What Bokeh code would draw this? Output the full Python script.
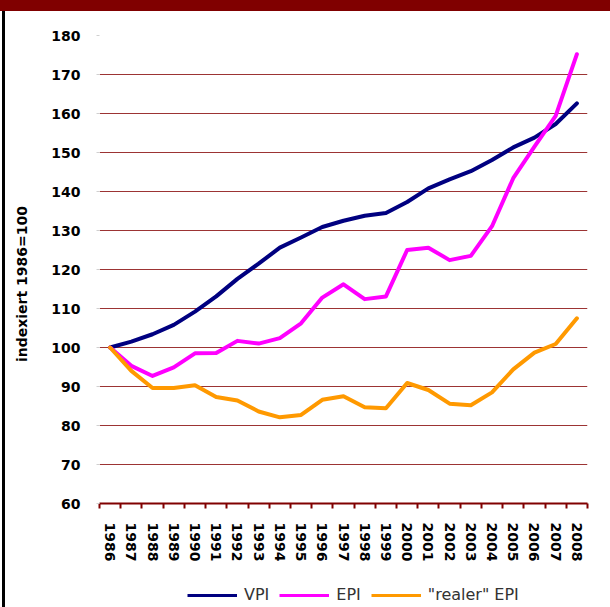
from bokeh.plotting import figure
from bokeh.models import FixedTicker, Legend, LegendItem
from bokeh.layouts import column
from bokeh.embed import file_html
from bokeh.resources import INLINE

years = [1986, 1987, 1988, 1989, 1990, 1991, 1992, 1993, 1994, 1995, 1996, 1997,
         1998, 1999, 2000, 2001, 2002, 2003, 2004, 2005, 2006, 2007, 2008]
vpi = [100, 101.5, 103.4, 105.8, 109.2, 113.1, 117.6, 121.5, 125.6, 128.2, 130.9, 132.5,
       133.8, 134.5, 137.3, 140.8, 143.1, 145.2, 148.1, 151.3, 153.8, 157.3, 162.6]
epi = [100, 95.3, 92.7, 94.9, 98.5, 98.6, 101.7, 101.0, 102.4, 106.2, 112.8, 116.2,
       112.4, 113.1, 125.0, 125.6, 122.4, 123.5, 131.1, 143.4, 151.5, 159.4, 175.2]
real_epi = [100, 94.0, 89.6, 89.6, 90.3, 87.3, 86.4, 83.6, 82.1, 82.7, 86.6, 87.5,
            84.7, 84.4, 90.9, 89.1, 85.6, 85.2, 88.5, 94.4, 98.7, 100.9, 107.5]
y_ticks = [60, 70, 80, 90, 100, 110, 120, 130, 140, 150, 160, 170, 180]
series_names = ["VPI", "EPI", "\"realer\" EPI"]
series_colors = ["#000080", "#FF00FF", "#FF9900"]
y_title = "indexiert 1986=100"

FONT = "DejaVu Sans"

frame_bg = ("linear-gradient(#800000, #800000) 0 0 / 100% 11px no-repeat, "
            "linear-gradient(#000000, #000000) 2px 0 / 3px 100% no-repeat, white")

p = figure(width=610, height=580,
           x_range=(years[0] - 0.5, years[-1] + 0.5), y_range=(y_ticks[0], y_ticks[-1]),
           output_backend="svg", toolbar_location=None,
           min_border_left=99, min_border_right=23, min_border_top=35, min_border_bottom=77)
p.outline_line_color = None
p.background_fill_color = "white"
p.border_fill_color = None

series = [vpi, epi, real_epi]
for vals, col in zip(series, series_colors):
    p.line(years, vals, line_color=col, line_width=4, line_join="round", line_cap="round")

# grid
p.xgrid.grid_line_color = None
p.ygrid.grid_line_color = "#8b1010"
p.ygrid.grid_line_alpha = 0.85
p.ygrid.grid_line_width = 1

# x axis
p.xaxis.ticker = FixedTicker(ticks=years, minor_ticks=[y - 0.5 for y in years] + [years[-1] + 0.5])
p.xaxis.major_label_orientation = "vertical"
p.xaxis.major_tick_out = 0
p.xaxis.major_tick_in = 0
p.xaxis.minor_tick_out = 5
p.xaxis.minor_tick_in = 0
p.xaxis.minor_tick_line_color = "#800000"
p.xaxis.minor_tick_line_width = 2
p.xaxis.axis_line_color = "#800000"
p.xaxis.axis_line_width = 2
p.xaxis.major_label_standoff = 14
p.xaxis.major_label_text_font = FONT
p.xaxis.major_label_text_font_style = "bold"
p.xaxis.major_label_text_font_size = "14px"
p.xaxis.major_label_text_color = "black"

# y axis
p.yaxis.ticker = FixedTicker(ticks=y_ticks)
p.yaxis.axis_line_color = None
p.yaxis.major_tick_out = 3
p.yaxis.major_tick_in = 0
p.yaxis.major_tick_line_color = "#d0d0d0"
p.yaxis.minor_tick_line_color = None
p.yaxis.major_label_standoff = 16
p.yaxis.major_label_text_font = FONT
p.yaxis.major_label_text_font_style = "bold"
p.yaxis.major_label_text_font_size = "14px"
p.yaxis.major_label_text_color = "black"
p.yaxis.axis_label = y_title + "\u00a0" * 6
p.yaxis.axis_label_standoff = 18
p.yaxis.axis_label_text_font = FONT
p.yaxis.axis_label_text_font_style = "bold"
p.yaxis.axis_label_text_font_size = "14px"
p.yaxis.axis_label_text_color = "black"

# legend strip below the chart; its key lines reuse the series (drawn out of view)
lg = figure(width=610, height=27, x_range=(years[0], years[-1]), y_range=(0, 1),
            output_backend="svg", toolbar_location=None,
            min_border_left=0, min_border_right=0, min_border_top=0, min_border_bottom=0)
lg.axis.visible = False
lg.grid.visible = False
lg.outline_line_color = None
lg.background_fill_color = None
lg.border_fill_color = None
keys = [lg.line(years, vals, line_color=col, line_width=3) for vals, col in zip(series, series_colors)]

legend = Legend(items=[LegendItem(label=n, renderers=[k]) for n, k in zip(series_names, keys)],
                location=(88, 3), orientation="horizontal",
                border_line_color=None, background_fill_alpha=0,
                padding=0, margin=0, spacing=10, label_standoff=7,
                glyph_width=50, glyph_height=16, label_height=16,
                label_text_font=FONT, label_text_font_size="16px",
                label_text_color="#333333")
lg.add_layout(legend)

layout = column(p, lg, spacing=0, styles={"background": frame_bg})
open("out.html", "w").write(file_html(layout, INLINE))
